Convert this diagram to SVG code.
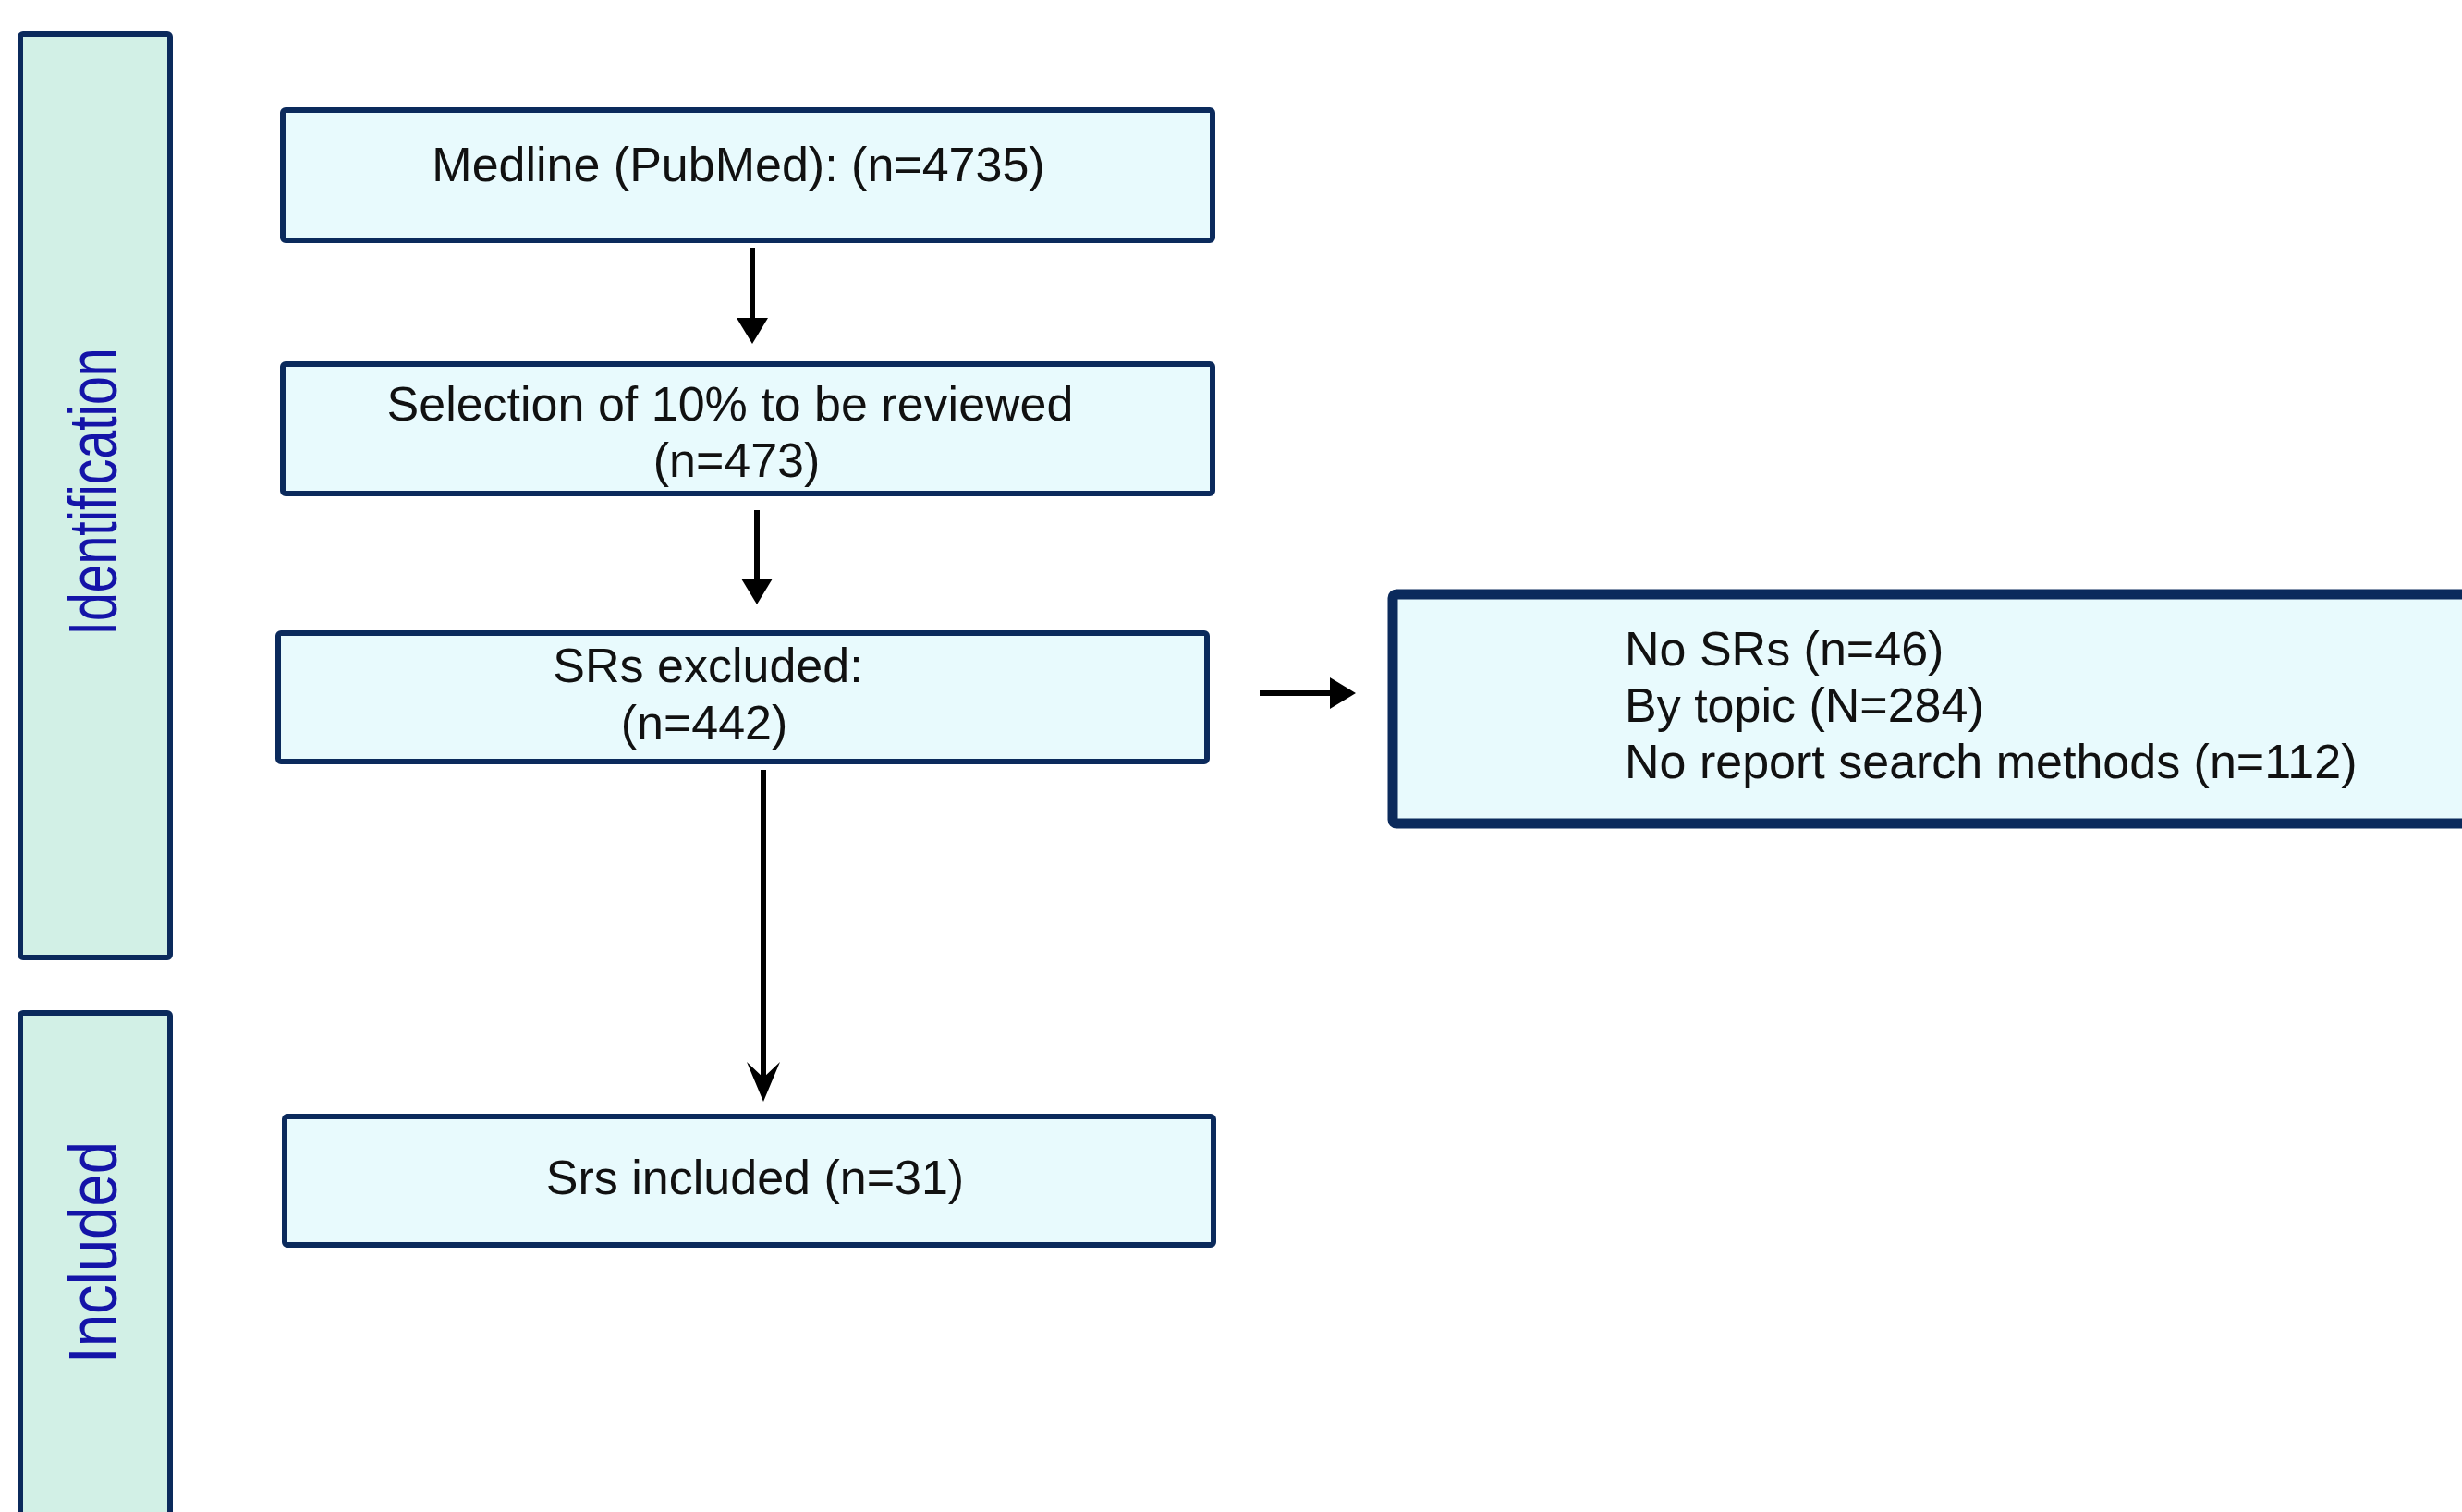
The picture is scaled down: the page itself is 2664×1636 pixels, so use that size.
<svg xmlns="http://www.w3.org/2000/svg" width="2664" height="1636" viewBox="0 0 2664 1636">
<style>
.lane{fill:#d2f0e6;stroke:#0b2a5c;stroke-width:6;stroke-linejoin:round}
.box{fill:#e8fafd;stroke:#0b2a5c;stroke-width:6;stroke-linejoin:round}
.boxb{fill:#e8fafd;stroke:#0b2a5c;stroke-width:11;stroke-linejoin:round}
.t{font-family:"Liberation Sans",Arial,sans-serif;font-size:52px;fill:#111}
.lt{font-family:"Liberation Sans",Arial,sans-serif;font-size:74px;fill:#1414a8}
.c{stroke:#000;stroke-width:6;fill:none}
</style>
<defs>
<marker id="ah" markerUnits="userSpaceOnUse" viewBox="0 0 28 34" refX="1" refY="17" markerWidth="28" markerHeight="34" orient="auto">
<path d="M0,0 L28,17 L0,34 Z" fill="#000"/>
</marker>
<marker id="ah2" markerUnits="userSpaceOnUse" viewBox="0 0 43 36" refX="18" refY="18" markerWidth="43" markerHeight="36" orient="auto">
<path d="M0,0 L43,18 L0,36 L17,18 Z" fill="#000"/>
</marker>
</defs>
<rect width="2664" height="1636" fill="#fff"/>
<g id="lane-identification">
<rect class="lane" x="22" y="37" width="162" height="999" rx="3"/>
<text class="lt" transform="translate(126,532) rotate(-90)" text-anchor="middle" textLength="311" lengthAdjust="spacingAndGlyphs">Identification</text>
</g>
<g id="lane-included">
<rect class="lane" x="22" y="1096" width="162" height="580" rx="3"/>
<text class="lt" transform="translate(126,1355) rotate(-90)" text-anchor="middle" textLength="240" lengthAdjust="spacingAndGlyphs">Included</text>
</g>
<g id="node-medline">
<rect class="box" x="306" y="119" width="1006" height="141" rx="3"/>
<text class="t" x="799" y="196" text-anchor="middle">Medline (PubMed): (n=4735)</text>
</g>
<g id="node-selection">
<rect class="box" x="306" y="394" width="1006" height="140" rx="3"/>
<text class="t" x="790" y="455" text-anchor="middle">Selection of 10% to be reviewed</text>
<text class="t" x="797" y="516" text-anchor="middle">(n=473)</text>
</g>
<g id="node-excluded">
<rect class="box" x="301" y="685" width="1005" height="139" rx="3"/>
<text class="t" x="766" y="738" text-anchor="middle">SRs excluded:</text>
<text class="t" x="762" y="800" text-anchor="middle">(n=442)</text>
</g>
<g id="node-reasons">
<rect class="boxb" x="1507" y="643" width="1200" height="248" rx="4"/>
<text class="t" x="1758" y="720">No SRs (n=46)</text>
<text class="t" x="1758" y="781">By topic (N=284)</text>
<text class="t" x="1758" y="842">No report search methods (n=112)</text>
</g>
<g id="node-included">
<rect class="box" x="308" y="1208" width="1005" height="139" rx="3"/>
<text class="t" x="817" y="1292" text-anchor="middle">Srs included (n=31)</text>
</g>
<g id="connectors">
<line class="c" x1="814" y1="268" x2="814" y2="345" marker-end="url(#ah)"/>
<line class="c" x1="819" y1="552" x2="819" y2="627" marker-end="url(#ah)"/>
<line class="c" x1="826" y1="833" x2="826" y2="1167" marker-end="url(#ah2)"/>
<line class="c" x1="1363" y1="750" x2="1440" y2="750" marker-end="url(#ah)"/>
</g>
</svg>
